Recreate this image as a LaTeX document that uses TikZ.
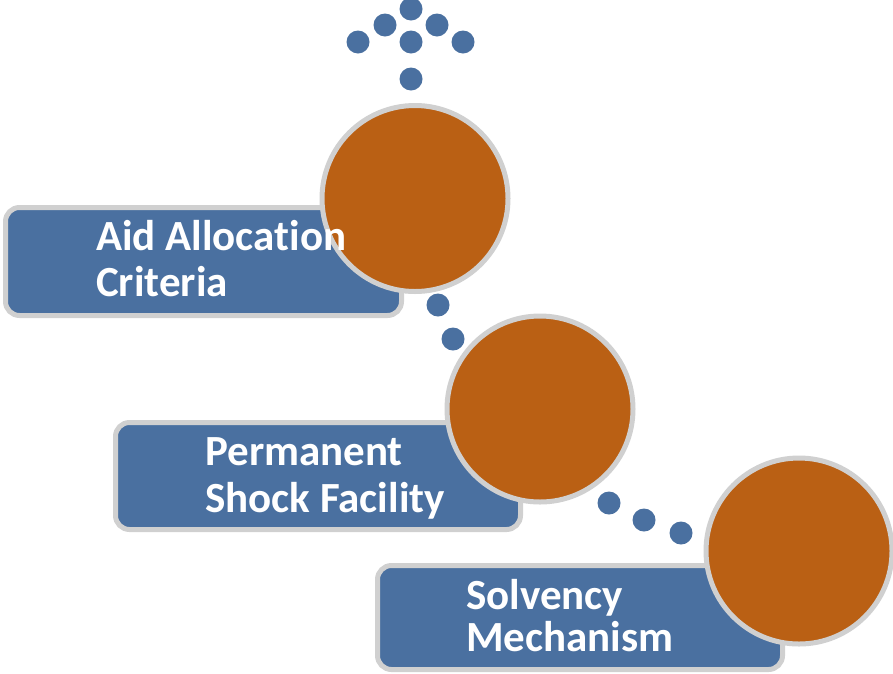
\documentclass[tikz,border=0pt]{standalone}
\usepackage{fontspec}
\setmainfont{Carlito}[Ligatures=NoCommon]
\definecolor{stepblue}{HTML}{4A70A0}
\definecolor{stepbrown}{HTML}{BA6014}
\definecolor{rimgray}{HTML}{D0D0D0}
\begin{document}
\begin{tikzpicture}[x=1pt,y=-1pt,
  labelbox/.style={draw=rimgray, line width=5pt, fill=stepblue, rounded corners=14pt,
    rectangle, inner sep=0pt},
  disc/.style={draw=rimgray, line width=5pt, fill=stepbrown, circle, inner sep=0pt,
    minimum size=186pt},
  caption/.style={anchor=base west, inner sep=0pt, text=white,
    font=\fontsize{43}{46}\selectfont\bfseries},
  dot/.style={fill=stepblue}
]
\useasboundingbox (0,0) rectangle (893,673);

% label boxes
\node[labelbox, minimum width=396pt, minimum height=108pt] (box1) at (203.5,261.5) {};
\node[labelbox, minimum width=405pt, minimum height=107pt] (box2) at (318,476) {};
\node[labelbox, minimum width=405pt, minimum height=104pt] (box3) at (580,617.5) {};

% discs
\node[disc] (disc1) at (415,198.5) {};
\node[disc] (disc2) at (540,409) {};
\node[disc] (disc3) at (799,551) {};

% captions
\node[caption] (cap1a) at (96,250) {Aid Allocation};
\node[caption] (cap1b) at (96,296) {Criteria};
\node[caption] (cap2a) at (205,465) {Permanent};
\node[caption] (cap2b) at (205,512) {Shock Facility};
\node[caption] (cap3a) at (466,609) {Solvency};
\node[caption] (cap3b) at (466,651) {Mechanism};

% dotted arrow head on top
\foreach \px/\py in {411/9, 385/25, 437/25, 358/42, 411/42, 463/42, 411/79}
  \fill[dot] (\px,\py) circle (11.5);

% dotted trails between discs
\foreach \px/\py in {438/305, 453/339, 609/503, 644/520, 681/533}
  \fill[dot] (\px,\py) circle (11.5);
\end{tikzpicture}
\end{document}
